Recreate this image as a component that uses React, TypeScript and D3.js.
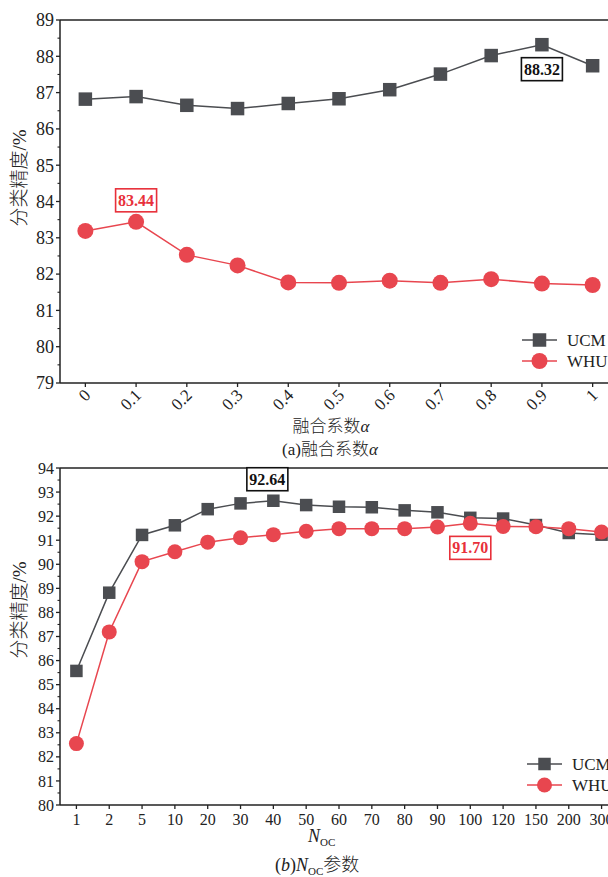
import React from "react";
import * as d3 from "d3";

// (a) fusion coefficient alpha
const alphaCats = ["0", "0.1", "0.2", "0.3", "0.4", "0.5", "0.6", "0.7", "0.8", "0.9", "1"];
const alphaUCM = [86.82, 86.89, 86.65, 86.56, 86.7, 86.83, 87.08, 87.51, 88.02, 88.32, 87.74];
const alphaWHU = [83.19, 83.44, 82.53, 82.24, 81.77, 81.76, 81.82, 81.76, 81.86, 81.74, 81.7];
const alphaYTicks = [79, 80, 81, 82, 83, 84, 85, 86, 87, 88, 89];

// (b) N_OC parameter
const nocCats = ["1", "2", "5", "10", "20", "30", "40", "50", "60", "70", "80", "90", "100", "120", "150", "200", "300"];
const nocUCM = [85.57, 88.82, 91.22, 91.62, 92.29, 92.53, 92.64, 92.46, 92.39, 92.37, 92.24, 92.16, 91.93, 91.9, 91.63, 91.3, 91.23];
const nocWHU = [82.55, 87.19, 90.11, 90.52, 90.92, 91.1, 91.23, 91.37, 91.48, 91.48, 91.48, 91.55, 91.7, 91.57, 91.56, 91.48, 91.34];
const nocYTicks = [80, 81, 82, 83, 84, 85, 86, 87, 88, 89, 90, 91, 92, 93, 94];

const seriesNames = ["UCM", "WHU"];

const GRAY = "#4b4d51";
const RED = "#e8464f";
const BOX_RED = "#e8303a";
const AXIS = "#222";
const SERIF = "'Liberation Serif', 'Times New Roman', serif";
const CJK = "'Noto Sans CJK SC', sans-serif";
const CJK_WEIGHT = 300;

type PanelProps = {
  cats: string[];
  ucm: number[];
  whu: number[];
  yTicks: number[];
  top: number;
  bottom: number;
  left: number;
  right: number;
  sq: number;
  r: number;
  tickFont: number;
  xTickFont: number;
  rotateX: boolean;
  ucmLabelIdx: number;
  whuLabelIdx: number;
  ucmLabelPos: "above" | "below";
  whuLabelPos: "above" | "below";
  ucmLabelDx: number;
  legendX: number;
  legendY: number;
  yLabelY: number;
};

function Panel(p: PanelProps) {
  const x = d3.scalePoint<string>().domain(p.cats).range([p.left, p.right]).padding(0.5);
  const y = d3.scaleLinear().domain([p.yTicks[0], p.yTicks[p.yTicks.length - 1]]).range([p.bottom, p.top]);
  const line = d3
    .line<number>()
    .x((_, i) => x(p.cats[i]) as number)
    .y((v) => y(v));
  const minor = d3.range(p.yTicks[0], p.yTicks[p.yTicks.length - 1], 0.5).filter((v) => v % 1 !== 0);

  const labelBox = (
    idx: number,
    vals: number[],
    pos: "above" | "below",
    color: string,
    dx: number
  ) => {
    const cx = (x(p.cats[idx]) as number) + dx;
    const cy = y(vals[idx]);
    const w = 41;
    const h = 23;
    const by = pos === "above" ? cy - 33 : cy + 13;
    return (
      <g>
        <rect x={cx - w / 2} y={by} width={w} height={h} fill="#fff" stroke={color} strokeWidth={1.6} />
        <text
          x={cx}
          y={by + h / 2 + 5.5}
          textAnchor="middle"
          fontFamily={SERIF}
          fontWeight="bold"
          fontSize={16}
          fill={color}
        >
          {vals[idx].toFixed(2)}
        </text>
      </g>
    );
  };

  return (
    <g>
      {/* frame: left, bottom and top edges */}
      <line x1={p.left} x2={p.left} y1={p.top} y2={p.bottom} stroke={AXIS} strokeWidth={1.5} />
      <line x1={p.left} x2={p.right + 10} y1={p.bottom} y2={p.bottom} stroke={AXIS} strokeWidth={1.5} />
      <line x1={p.left} x2={p.right + 10} y1={p.top} y2={p.top} stroke={AXIS} strokeWidth={1.5} />

      {/* y ticks */}
      {p.yTicks.map((t) => (
        <g key={"y" + t}>
          <line x1={p.left - 4} x2={p.left} y1={y(t)} y2={y(t)} stroke={AXIS} strokeWidth={1.3} />
          <text
            x={p.left - 6}
            y={y(t)}
            dy="0.35em"
            textAnchor="end"
            fontFamily={SERIF}
            fontSize={p.tickFont}
            fill="#222"
          >
            {t}
          </text>
        </g>
      ))}
      {minor.map((t) => (
        <line key={"m" + t} x1={p.left - 2.5} x2={p.left} y1={y(t)} y2={y(t)} stroke={AXIS} strokeWidth={1.1} />
      ))}

      {/* x ticks */}
      {p.cats.map((c) => {
        const xp = x(c) as number;
        return (
          <g key={"x" + c}>
            <line x1={xp} x2={xp} y1={p.bottom} y2={p.bottom + 4} stroke={AXIS} strokeWidth={1.3} />
            {p.rotateX ? (
              <text
                transform={`translate(${xp + 2},${p.bottom + 9}) rotate(-45)`}
                dy="0.35em"
                textAnchor="end"
                fontFamily={SERIF}
                fontSize={p.xTickFont}
                fill="#222"
              >
                {c}
              </text>
            ) : (
              <text
                x={xp}
                y={p.bottom + 20}
                textAnchor="middle"
                fontFamily={SERIF}
                fontSize={p.xTickFont}
                fill="#222"
              >
                {c}
              </text>
            )}
          </g>
        );
      })}

      {/* y axis title */}
      <text
        transform={`translate(26,${p.yLabelY}) rotate(-90)`}
        textAnchor="middle"
        fontSize={19}
        fill="#222"
      >
        <tspan fontFamily={CJK} fontWeight={CJK_WEIGHT}>分类精度</tspan>
        <tspan fontFamily={SERIF}>/%</tspan>
      </text>

      {/* series lines */}
      <path d={line(p.ucm) as string} fill="none" stroke={GRAY} strokeWidth={1.5} />
      <path d={line(p.whu) as string} fill="none" stroke={RED} strokeWidth={1.5} />

      {/* markers */}
      {p.ucm.map((v, i) => (
        <rect
          key={"s" + i}
          x={(x(p.cats[i]) as number) - p.sq / 2}
          y={y(v) - p.sq / 2}
          width={p.sq}
          height={p.sq}
          fill={GRAY}
        />
      ))}
      {p.whu.map((v, i) => (
        <circle key={"c" + i} cx={x(p.cats[i]) as number} cy={y(v)} r={p.r} fill={RED} />
      ))}

      {labelBox(p.ucmLabelIdx, p.ucm, p.ucmLabelPos, "#111", p.ucmLabelDx)}
      {labelBox(p.whuLabelIdx, p.whu, p.whuLabelPos, BOX_RED, 0)}

      {/* legend */}
      {seriesNames.map((name, i) => {
        const ly = p.legendY + i * 21;
        const color = i === 0 ? GRAY : RED;
        return (
          <g key={name}>
            <line x1={p.legendX} x2={p.legendX + 35} y1={ly} y2={ly} stroke={color} strokeWidth={1.5} />
            {i === 0 ? (
              <rect x={p.legendX + 17.5 - p.sq / 2} y={ly - p.sq / 2} width={p.sq} height={p.sq} fill={GRAY} />
            ) : (
              <circle cx={p.legendX + 17.5} cy={ly} r={p.r} fill={RED} />
            )}
            <text x={p.legendX + 45} y={ly} dy="0.35em" fontFamily={SERIF} fontSize={17} fill="#222">
              {name}
            </text>
          </g>
        );
      })}
    </g>
  );
}

export default function App() {
  return (
    <svg
      width={608}
      height={877}
      style={{ position: "absolute", left: 0, top: 0, background: "#fff" }}
    >
      <Panel
        cats={alphaCats}
        ucm={alphaUCM}
        whu={alphaWHU}
        yTicks={alphaYTicks}
        top={20}
        bottom={383}
        left={60}
        right={618}
        sq={13.5}
        r={8}
        tickFont={18}
        xTickFont={17}
        rotateX={true}
        ucmLabelIdx={9}
        whuLabelIdx={1}
        ucmLabelPos="below"
        whuLabelPos="above"
        ucmLabelDx={0}
        legendX={522}
        legendY={340}
        yLabelY={178}
      />
      <text x={331} y={432} textAnchor="middle" fontSize={17} fill="#222">
        <tspan fontFamily={CJK} fontWeight={CJK_WEIGHT}>融合系数</tspan>
        <tspan fontFamily={SERIF} fontStyle="italic">α</tspan>
      </text>
      <text x={330} y={455} textAnchor="middle" fontSize={17} fill="#222">
        <tspan fontFamily={SERIF}>(a)</tspan>
        <tspan fontFamily={CJK} fontWeight={CJK_WEIGHT}>融合系数</tspan>
        <tspan fontFamily={SERIF} fontStyle="italic">α</tspan>
      </text>

      <Panel
        cats={nocCats}
        ucm={nocUCM}
        whu={nocWHU}
        yTicks={nocYTicks}
        top={468}
        bottom={805}
        left={60}
        right={618}
        sq={12.5}
        r={7.5}
        tickFont={16}
        xTickFont={16}
        rotateX={false}
        ucmLabelIdx={6}
        whuLabelIdx={12}
        ucmLabelPos="above"
        whuLabelPos="below"
        ucmLabelDx={-6}
        legendX={527}
        legendY={764}
        yLabelY={610}
      />
      <text x={308} y={842} fontFamily={SERIF} fontSize={18} fill="#222">
        <tspan fontStyle="italic">N</tspan>
        <tspan fontSize={11} dy={4}>OC</tspan>
      </text>
      <text x={275} y={871} fontSize={18} fill="#222">
        <tspan fontFamily={SERIF}>(</tspan>
        <tspan fontFamily={SERIF} fontStyle="italic">b</tspan>
        <tspan fontFamily={SERIF}>)</tspan>
        <tspan fontFamily={SERIF} fontStyle="italic">N</tspan>
        <tspan fontFamily={SERIF} fontSize={11} dy={4}>OC</tspan>
        <tspan fontFamily={CJK} fontWeight={CJK_WEIGHT} dy={-4}>参数</tspan>
      </text>
    </svg>
  );
}
